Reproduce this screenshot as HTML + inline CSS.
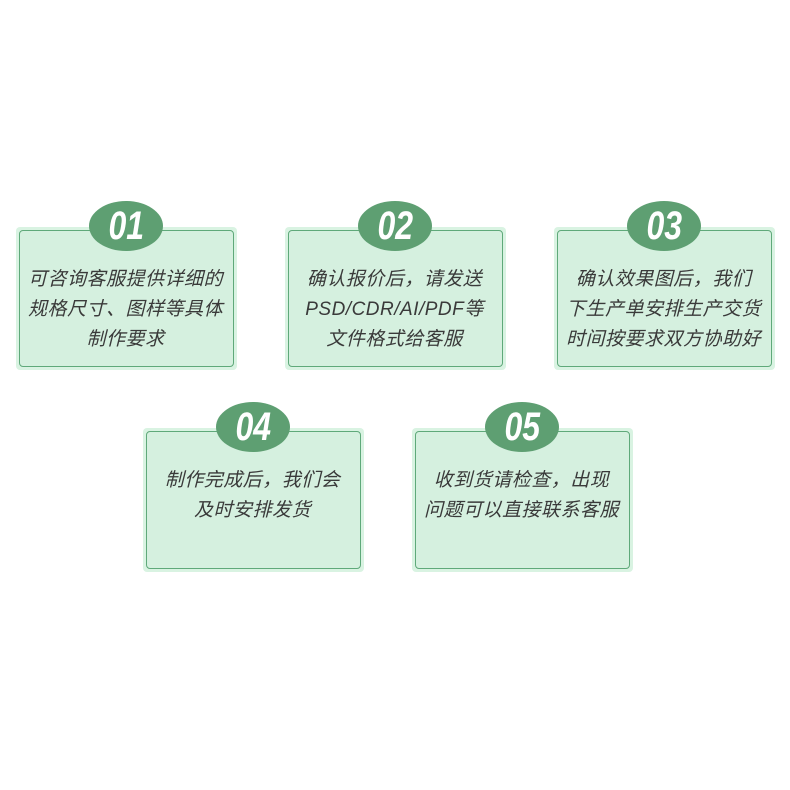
<!DOCTYPE html>
<html><head><meta charset="utf-8"><style>
body{margin:0;width:790px;height:790px;background:#fff;position:relative;overflow:hidden;font-family:"Liberation Sans","Noto Sans CJK SC",sans-serif}
.b{position:absolute;width:221px;background:#d9f3e2;border-radius:4px}
.b .in{position:absolute;left:3px;top:3px;right:3px;bottom:3px;border:1.5px solid #5fa97a;border-radius:4px;background:#d5f0df}
.b .t{position:absolute;left:-2px;right:0;top:38px;text-align:center;font-size:19px;letter-spacing:0.5px;line-height:30px;color:#3a3a3a;font-style:italic}
.e{position:absolute;left:73px;top:-26px;width:74px;height:50px;border-radius:50%;background:#5e9f72;color:#fff;font-weight:bold;font-style:italic;font-size:40px;line-height:50px;text-align:center;font-family:"Liberation Sans Narrow","Liberation Sans",sans-serif}
.e span{display:inline-block;transform:scaleX(0.8)}
</style></head><body>
<div class="b" style="left:16px;top:227px;height:143px"><div class="in"></div><div class="e"><span>01</span></div><div class="t">可咨询客服提供详细的<br>规格尺寸、图样等具体<br>制作要求</div></div>
<div class="b" style="left:285px;top:227px;height:143px"><div class="in"></div><div class="e"><span>02</span></div><div class="t">确认报价后，请发送<br>PSD/CDR/AI/PDF等<br>文件格式给客服</div></div>
<div class="b" style="left:554px;top:227px;height:143px"><div class="in"></div><div class="e"><span>03</span></div><div class="t">确认效果图后，我们<br>下生产单安排生产交货<br>时间按要求双方协助好</div></div>
<div class="b" style="left:143px;top:428px;height:144px"><div class="in"></div><div class="e"><span>04</span></div><div class="t">制作完成后，我们会<br>及时安排发货</div></div>
<div class="b" style="left:412px;top:428px;height:144px"><div class="in"></div><div class="e"><span>05</span></div><div class="t">收到货请检查，出现<br>问题可以直接联系客服</div></div>
</body></html>
